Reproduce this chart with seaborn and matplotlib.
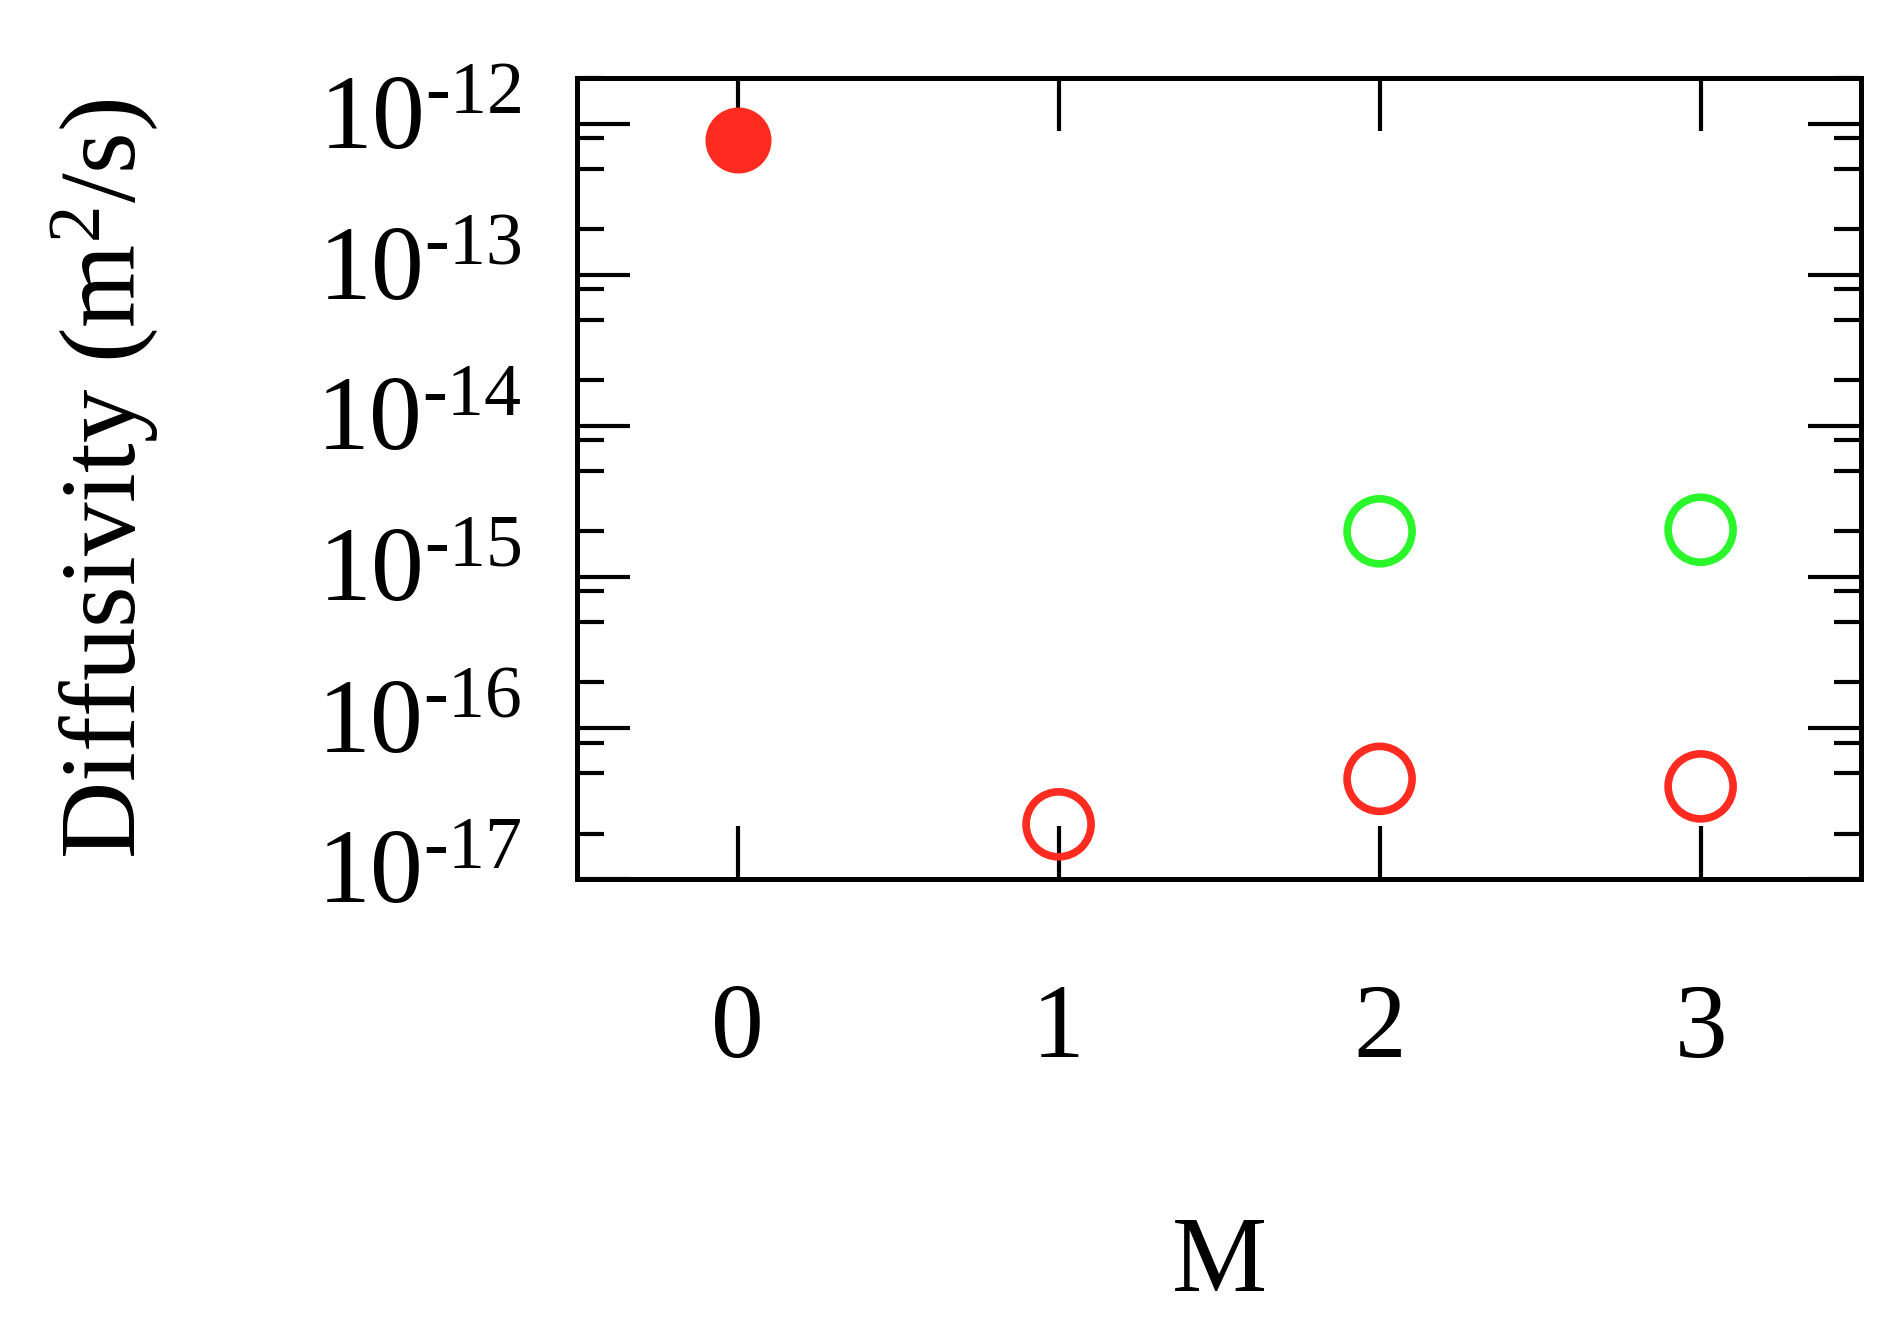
import pandas as pd
import seaborn as sns
import matplotlib.pyplot as plt
from matplotlib.ticker import FixedLocator, LogLocator, NullFormatter
from matplotlib.transforms import ScaledTranslation

#region 1. Data
m_red = [0, 1, 2, 3]
d_red = [7.8e-13, 2.3e-17, 4.6e-17, 4.1e-17]
filled_red = [True, False, False, False]
m_green = [2, 3]
d_green = [2.0e-15, 2.05e-15]
x_ticks = [0, 1, 2, 3]
y_exponents = [-17, -16, -15, -14, -13, -12]
#endregion

red = '#fe2b20'
green = '#2bf52b'

sns.set_theme(style='ticks')
plt.rcParams['font.family'] = ['Liberation Serif', 'DejaVu Serif']
plt.rcParams['mathtext.fontset'] = 'custom'
plt.rcParams['mathtext.rm'] = 'Liberation Serif'
plt.rcParams['mathtext.it'] = 'Liberation Serif:italic'
plt.rcParams['mathtext.bf'] = 'Liberation Serif:bold'
for key in ['text.color', 'axes.labelcolor', 'xtick.color', 'ytick.color', 'axes.edgecolor']:
    plt.rcParams[key] = 'black'

df_red = pd.DataFrame({'M': m_red, 'D': d_red, 'filled': filled_red})
df_green = pd.DataFrame({'M': m_green, 'D': d_green})

#region 2. Plot
fig = plt.figure(figsize=(19.02, 13.32), dpi=100)
ax = fig.add_axes([0.3034, 0.3401, 0.6751, 0.6013])
ax.set_yscale('log')

sns.scatterplot(data=df_red[df_red['filled']], x='M', y='D', color=red, s=2260,
                linewidth=0, zorder=3, ax=ax, legend=False)
sns.scatterplot(data=df_red[~df_red['filled']], x='M', y='D', facecolors='none',
                edgecolor=red, s=2190, linewidth=5.5, zorder=3, ax=ax, legend=False)
sns.scatterplot(data=df_green, x='M', y='D', facecolors='none',
                edgecolor=green, s=2190, linewidth=5.5, zorder=3, ax=ax, legend=False)

ax.set_xlim(-0.5, 3.5)
ax.set_ylim(1e-17, 2e-12)
ax.set_xticks(x_ticks)
ax.set_xticklabels([str(v) for v in x_ticks])
ax.yaxis.set_major_locator(FixedLocator([10.0 ** e for e in y_exponents]))
ax.yaxis.set_minor_locator(LogLocator(base=10, subs=(2, 5, 8), numticks=30))
ax.yaxis.set_minor_formatter(NullFormatter())
ax.set_yticklabels([r'$10^{\text{-%d}}$' % -e for e in y_exponents])

ax.tick_params(which='both', direction='in', top=True, right=True, width=3, color='black',
               labelcolor='black')
ax.tick_params(which='major', length=38)
ax.tick_params(which='minor', length=19.5)
ax.tick_params(axis='y', which='major', labelsize=76, pad=40)
ax.tick_params(axis='x', which='major', labelsize=76, pad=75)
for sp in ax.spines.values():
    sp.set_linewidth(3.6)
    sp.set_color('black')

ax.set_ylabel('Diffusivity (m$^2$/s)', fontsize=77, labelpad=112)
ax.set_xlabel('M', fontsize=77, labelpad=98)

# labels sit a bit low like in the original
shift = ScaledTranslation(0, -0.24, fig.dpi_scale_trans)
for tick in ax.yaxis.get_major_ticks():
    tick.label1.set_verticalalignment('baseline')
    tick.label1.set_transform(tick.label1.get_transform() + shift)
#endregion

fig.savefig('out.png', dpi=100)
